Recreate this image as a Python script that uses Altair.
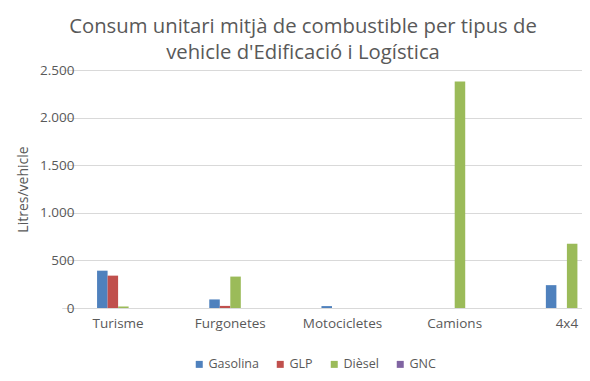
import altair as alt
import pandas as pd

categories = ["Turisme", "Furgonetes", "Motocicletes", "Camions", "4x4"]
series = ["Gasolina", "GLP", "Dièsel", "GNC"]
gasolina = [392, 90, 20, 0, 240]
glp = [340, 22, 0, 0, 0]
diesel = [15, 330, 0, 2380, 675]
gnc = [0, 0, 0, 0, 0]
colors = ["#4F81BD", "#C0504D", "#9BBB59", "#8064A2"]
y_ticks = [0, 500, 1000, 1500, 2000, 2500]

rows = []
for s, vals in zip(series, [gasolina, glp, diesel, gnc]):
    for c, v in zip(categories, vals):
        rows.append({"cat": c, "serie": s, "val": v})
df = pd.DataFrame(rows)

gray = "#595959"
font = "Open Sans"

chart = alt.Chart(df).mark_bar().encode(
    x=alt.X("cat:N", sort=categories, title=None,
            scale=alt.Scale(range=[-28, 533], paddingInner=0.625, paddingOuter=0.3125),
            axis=alt.Axis(labelAngle=0, ticks=False, domainColor="#D9D9D9",
                          labelColor=gray, labelFontSize=13.5, labelFont=font,
                          labelPadding=8, grid=False)),
    xOffset=alt.XOffset("serie:N", sort=series, scale=alt.Scale(paddingInner=0, paddingOuter=0)),
    y=alt.Y("val:Q", title="Litres/vehicle",
            scale=alt.Scale(domain=[0, 2500], nice=False),
            axis=alt.Axis(values=y_ticks, domain=False, ticks=False,
                          labelExpr="replace(format(datum.value, ','), ',', '.')",
                          labelColor=gray, labelFontSize=13.5, labelFont=font,
                          labelPadding=16, gridColor="#D9D9D9",
                          titleColor=gray, titleFontSize=14, titleFont=font,
                          titleFontWeight="normal", titlePadding=9)),
    color=alt.Color("serie:N", sort=series,
                    scale=alt.Scale(domain=series, range=colors),
                    legend=alt.Legend(title=None, orient="none", direction="horizontal",
                                      legendX=103, legendY=288, symbolType="square",
                                      symbolSize=49, symbolStrokeWidth=0,
                                      labelColor=gray, labelFontSize=12.5, labelFont=font,
                                      labelOffset=3, columnPadding=15, symbolOffset=0)),
).properties(
    width=492, height=238,
    autosize=alt.AutoSizeParams(type="none"),
    padding={"left": 82, "top": 62, "right": 0, "bottom": 65},
    title=alt.TitleParams(
        text=["Consum unitari mitjà de combustible per tipus de",
              "vehicle d'Edificació i Logística"],
        fontSize=20.3, font=font, color=gray, fontWeight="normal",
        lineHeight=26, anchor="middle", offset=0, dx=-33,
    ),
).configure_view(stroke=None)

chart.save("out.html", embed_options={"renderer": "svg", "actions": False})
